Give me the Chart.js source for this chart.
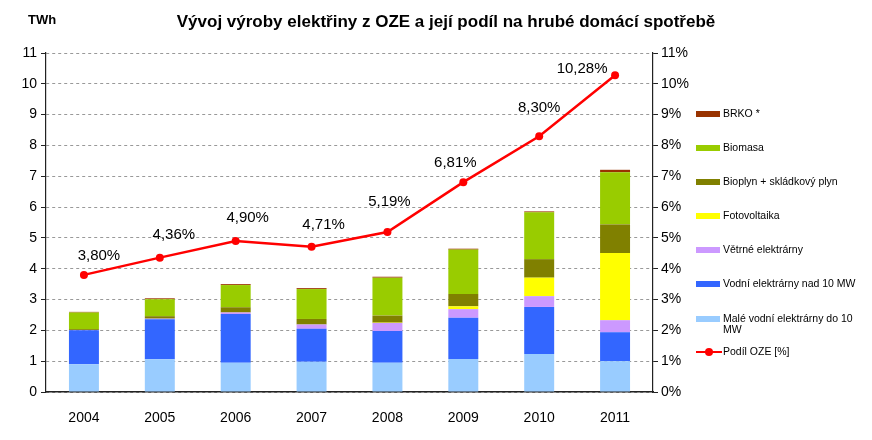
<!DOCTYPE html>
<html>
<head>
<meta charset="utf-8">
<script src="https://cdn.jsdelivr.net/npm/chart.js@4"></script>
<style>
  body { margin: 0; background: #fff; font-family: Arial, "Liberation Sans", sans-serif; }
  #wrap { position: relative; width: 872px; height: 440px; overflow: hidden; }
  #c { position: absolute; left: 0; top: 0; }
  #title { position: absolute; left: 0; width: 892px; top: 12px; text-align: center; font-weight: bold; font-size: 17px; color: #000; white-space: nowrap; }
  #unit { position: absolute; left: 28px; top: 12px; font-weight: bold; font-size: 13px; color: #000; }
  .lg { position: absolute; left: 696px; font-size: 10.5px; line-height: 11px; color: #000; white-space: nowrap; }
  .lg .sw { position: absolute; left: 0; top: 2.5px; width: 24px; height: 6px; }
  .lg .tx { position: absolute; left: 27px; top: 0; }
  .lg .ln { position: absolute; left: 0; top: 4.5px; width: 26px; height: 2px; background: #ff0000; }
  .lg .dt { position: absolute; left: 9px; top: 1.5px; width: 8px; height: 8px; border-radius: 50%; background: #ff0000; }
</style>
</head>
<body>
<div id="wrap">
  <canvas id="c" width="872" height="440"></canvas>
  <div id="title">Vývoj výroby elektřiny z OZE a její podíl na hrubé domácí spotřebě</div>
  <div id="unit">TWh</div>
  <div class="lg" style="top:108px"><div class="sw" style="background:#993300"></div><div class="tx">BRKO *</div></div>
  <div class="lg" style="top:142px"><div class="sw" style="background:#99CC00"></div><div class="tx">Biomasa</div></div>
  <div class="lg" style="top:176px"><div class="sw" style="background:#808000"></div><div class="tx">Bioplyn + skládkový plyn</div></div>
  <div class="lg" style="top:210px"><div class="sw" style="background:#FFFF00"></div><div class="tx">Fotovoltaika</div></div>
  <div class="lg" style="top:244px"><div class="sw" style="background:#CC99FF"></div><div class="tx">Větrné elektrárny</div></div>
  <div class="lg" style="top:278px"><div class="sw" style="background:#3366FF"></div><div class="tx">Vodní elektrárny nad 10 MW</div></div>
  <div class="lg" style="top:313px"><div class="sw" style="background:#99CCFF"></div><div class="tx">Malé vodní elektrárny do 10<br>MW</div></div>
  <div class="lg" style="top:346px"><div class="ln"></div><div class="dt"></div><div class="tx">Podíl OZE [%]</div></div>
</div>
<script>
const years = ['2004', '2005', '2006', '2007', '2008', '2009', '2010', '2011'];
const maleVodni = [0.90, 1.06, 0.95, 0.98, 0.95, 1.07, 1.23, 1.00];
const vodniNad10 = [1.10, 1.30, 1.58, 1.07, 1.03, 1.34, 1.53, 0.94];
const vetrne = [0.01, 0.02, 0.05, 0.14, 0.26, 0.28, 0.35, 0.39];
const fotovoltaika = [0, 0, 0, 0, 0.01, 0.09, 0.60, 2.18];
const bioplyn = [0.03, 0.08, 0.17, 0.18, 0.23, 0.40, 0.60, 0.93];
const biomasa = [0.54, 0.55, 0.72, 0.97, 1.23, 1.44, 1.52, 1.69];
const brko = [0.02, 0.03, 0.03, 0.03, 0.03, 0.03, 0.03, 0.08];
const podilOZE = [3.80, 4.36, 4.90, 4.71, 5.19, 6.81, 8.30, 10.28];
const axisMin = 0;
const axisMax = 11;
const axisStep = 1;

const labelPlugin = {
  id: 'pointLabels',
  afterDatasetsDraw(chart, args, opts) {
    const ctx = chart.ctx;
    const dsIndex = chart.data.datasets.findIndex(d => d.type === 'line');
    const meta = chart.getDatasetMeta(dsIndex);
    const data = chart.data.datasets[dsIndex].data;
    ctx.save();
    ctx.font = opts.font;
    ctx.fillStyle = opts.color;
    ctx.textAlign = 'center';
    ctx.textBaseline = 'middle';
    meta.data.forEach((pt, i) => {
      const txt = data[i].toFixed(2).replace('.', ',') + '%';
      ctx.fillText(txt, pt.x + opts.dx[i], pt.y + opts.dy[i]);
    });
    ctx.restore();
  }
};

const barDs = (label, data, color) => ({
  type: 'bar', label, data, backgroundColor: color, borderWidth: 0,
  yAxisID: 'y', stack: 's', order: 1,
  barPercentage: 0.395, categoryPercentage: 1.0
});

new Chart(document.getElementById('c'), {
  data: {
    labels: years,
    datasets: [
      {
        type: 'line', label: 'Podíl OZE [%]', data: podilOZE, yAxisID: 'y1', order: 0,
        borderColor: '#ff0000', backgroundColor: '#ff0000', borderWidth: 2.5,
        pointRadius: 4, pointBorderWidth: 0, pointBackgroundColor: '#ff0000', tension: 0
      },
      barDs('Malé vodní elektrárny do 10 MW', maleVodni, '#99CCFF'),
      barDs('Vodní elektrárny nad 10 MW', vodniNad10, '#3366FF'),
      barDs('Větrné elektrárny', vetrne, '#CC99FF'),
      barDs('Fotovoltaika', fotovoltaika, '#FFFF00'),
      barDs('Bioplyn + skládkový plyn', bioplyn, '#808000'),
      barDs('Biomasa', biomasa, '#99CC00'),
      barDs('BRKO *', brko, '#993300')
    ]
  },
  options: {
    responsive: false,
    animation: false,
    layout: { padding: { top: 53, right: 174, bottom: 0, left: 0 } },
    plugins: {
      legend: { display: false },
      title: { display: false },
      tooltip: { enabled: false },
      pointLabels: {
        font: '15px Arial, "Liberation Sans", sans-serif',
        color: '#000',
        dx: [15, 14, 12, 12, 2, -8, 0, -33],
        dy: [-19, -23, -23, -22, -30, -19, -28, -6]
      }
    },
    scales: {
      x: {
        stacked: true,
        grid: { display: false },
        border: { display: true, color: '#222', width: 1.5 },
        ticks: { color: '#000', font: { size: 14, family: 'Arial, "Liberation Sans", sans-serif' }, padding: 10 },
        afterFit(s) { s.height = 48; }
      },
      y: {
        position: 'left', stacked: true, min: axisMin, max: axisMax,
        ticks: { stepSize: axisStep, color: '#000', padding: 4, font: { size: 14, family: 'Arial, "Liberation Sans", sans-serif' } },
        grid: { color: '#999', lineWidth: 1, tickColor: '#222', tickLength: 5, drawTicks: true },
        border: { display: true, color: '#222', width: 1.2, dash: [3, 3] },
        afterFit(s) { s.width = 46; }
      },
      y1: {
        position: 'right', min: axisMin, max: axisMax,
        ticks: { stepSize: axisStep, color: '#000', padding: 3, font: { size: 14, family: 'Arial, "Liberation Sans", sans-serif' }, callback: v => v + '%' },
        grid: { drawOnChartArea: false, tickColor: '#222', tickLength: 5, drawTicks: true },
        border: { display: true, color: '#222', width: 1.2 },
        afterFit(s) { s.width = 45; }
      }
    }
  },
  plugins: [labelPlugin]
});
</script>
</body>
</html>
